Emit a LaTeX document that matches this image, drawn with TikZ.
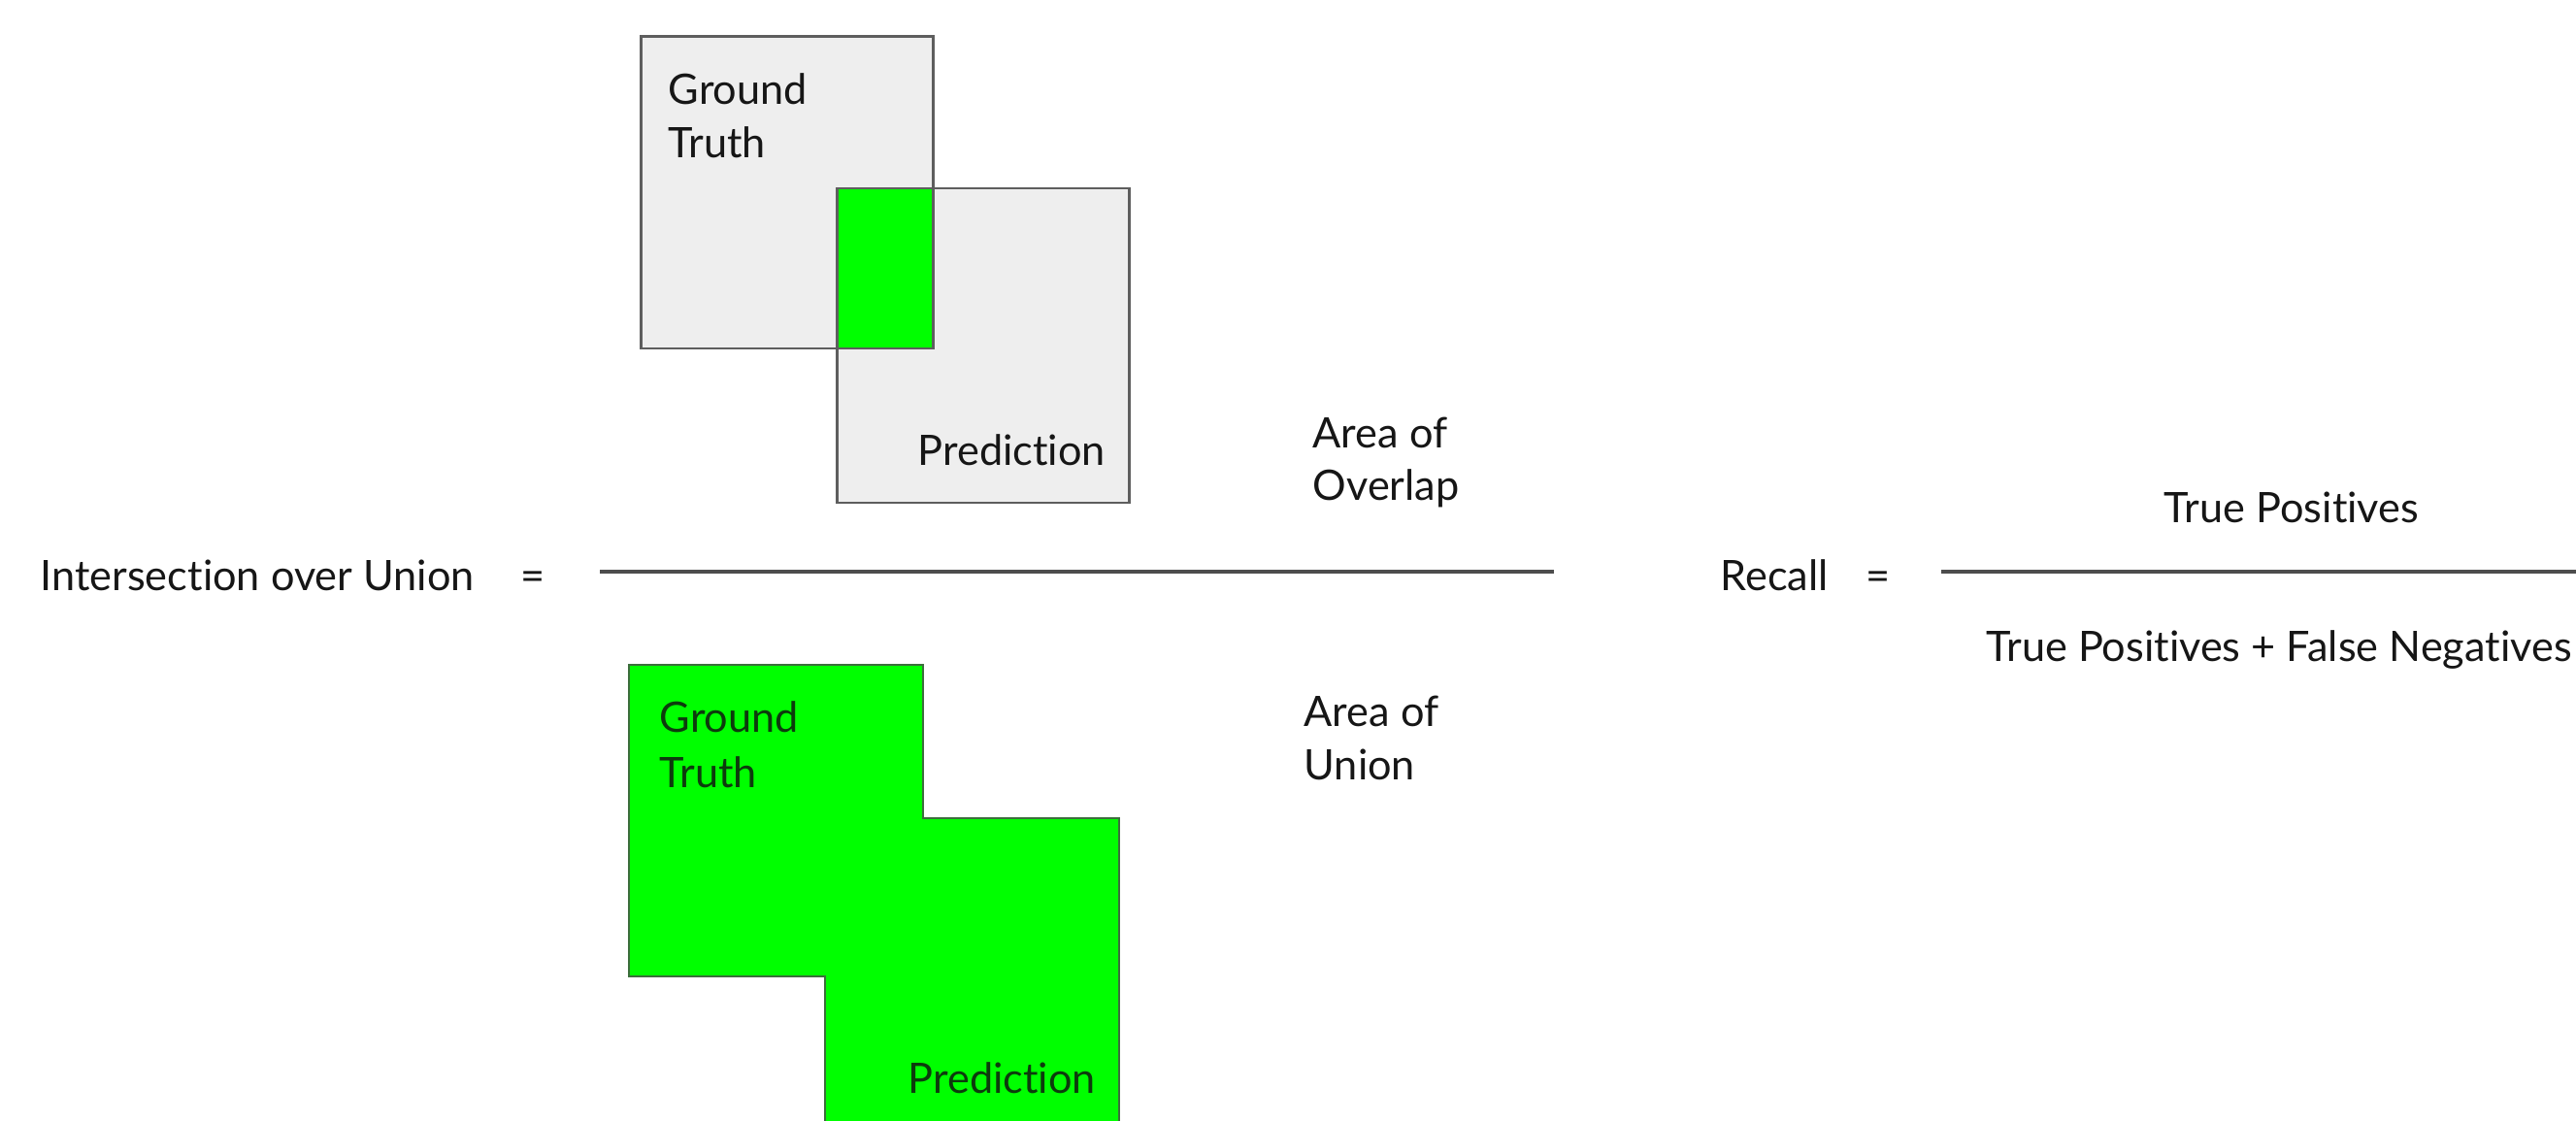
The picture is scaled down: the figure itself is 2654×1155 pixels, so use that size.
\documentclass[tikz,border=0pt]{standalone}
\usepackage{fontspec}
\setmainfont{Lato}[Ligatures=NoCommon]
\definecolor{boxgray}{HTML}{EEEEEE}
\definecolor{boxedge}{HTML}{5E5E5E}
\definecolor{vgreen}{HTML}{00FF00}
\definecolor{gedge}{HTML}{3C6E3C}
\definecolor{gtxt}{HTML}{0D3B0D}
\definecolor{txt}{HTML}{161616}
\definecolor{rulecol}{HTML}{4D4D4D}
\begin{document}
\begin{tikzpicture}[x=0.01cm,y=-0.01cm,
  lbl/.style={font=\fontsize{12.3}{14}\selectfont, inner sep=0pt, anchor=base west, text=txt},
  glbl/.style={lbl, text=gtxt},
  clbl/.style={lbl, anchor=base},
  boxshape/.style={fill=boxgray, draw=boxedge, line width=0.85pt},
  outline/.style={draw=boxedge, line width=0.85pt},
  unionshape/.style={fill=vgreen, draw=gedge, line width=0.8pt},
  fracline/.style={draw=rulecol, line width=1.1pt}]
\useasboundingbox (0,0) rectangle (2654,1155);
\clip (0,0) rectangle (2654,1155);
\fill[white] (0,0) rectangle (2654,1155);

% overlap picture
\path[boxshape] (660,38) rectangle (961,359);
\path[boxshape] (862,194) rectangle (1163,518);
\fill[vgreen] (862,194) rectangle (961,359);
\path[outline] (660,38) rectangle (961,359);
\path[outline] (862,194) rectangle (1163,518);
\node[lbl] (gtA) at (688,108) {Ground};
\node[lbl] (gtB) at (688,163) {Truth};
\node[lbl] (prA) at (945,480) {Prediction};

% union picture
\path[unionshape] (648,685) -- (951,685) -- (951,843) -- (1153,843) -- (1153,1170)
  -- (850,1170) -- (850,1006) -- (648,1006) -- cycle;
\node[glbl] (ugA) at (679,754) {Ground};
\node[glbl] (ugB) at (679,811) {Truth};
\node[glbl] (upA) at (935,1126) {Prediction};

% IoU fraction
\node[lbl] (ovA) at (1352,462) {Area of};
\node[lbl] (ovB) at (1352,516) {Overlap};
\node[lbl] (unA) at (1343,748) {Area of};
\node[lbl] (unB) at (1343,803) {Union};
\node[lbl] (iou) at (41,608) {Intersection over Union};
\node[lbl] (eqA) at (536,608) {=};
\coordinate (iouL) at (618,589);
\coordinate (iouR) at (1601,589);
\draw[fracline] (iouL) -- (iouR);

% Recall fraction
\node[lbl] (rec) at (1772,608) {Recall};
\node[lbl] (eqB) at (1922,608) {=};
\coordinate (recL) at (2000,589);
\coordinate (recR) at (2654,589);
\draw[fracline] (recL) -- (recR);
\node[clbl] (tp) at (2361,538) {True Positives};
\node[clbl] (tpfn) at (2348,681) {True Positives + False Negatives};
\end{tikzpicture}
\end{document}
